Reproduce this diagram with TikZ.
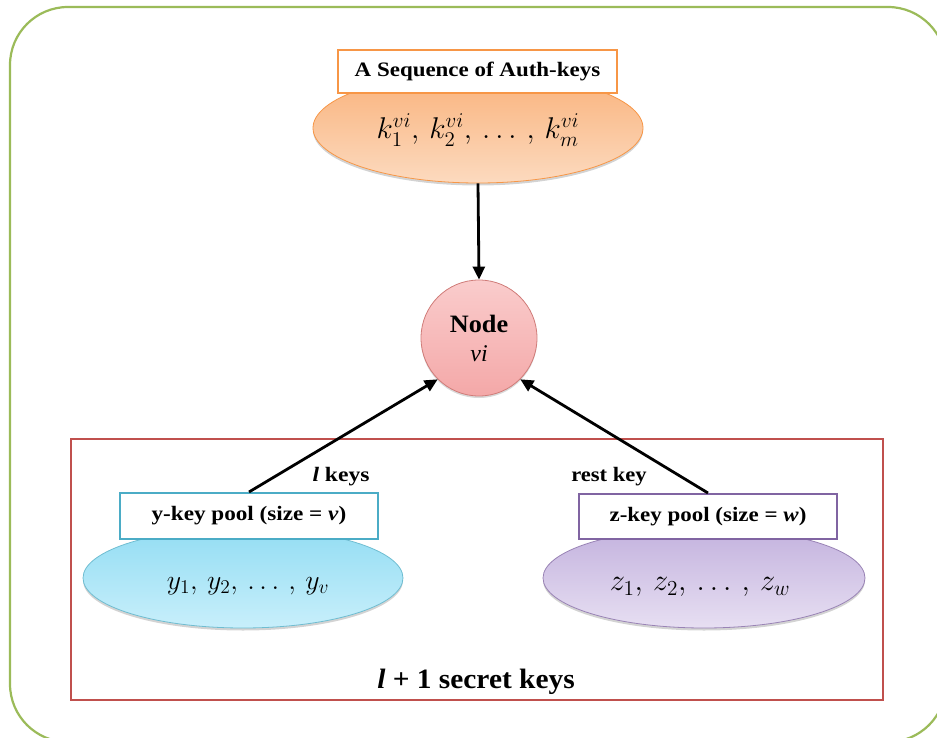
\documentclass[tikz,border=0pt]{standalone}
\usepackage{fix-cm}
\usepackage{graphicx}
\usepackage{fontspec}
\setmainfont{Liberation Serif}
\usetikzlibrary{shapes.geometric,arrows.meta,shadows}
\definecolor{framegreen}{HTML}{9BBB59}
\definecolor{boxred}{HTML}{C0504D}
\definecolor{boxorange}{HTML}{F79646}
\definecolor{boxcyan}{HTML}{4BACC6}
\definecolor{boxpurple}{HTML}{8064A2}
\definecolor{orangetop}{HTML}{F9B27B}
\definecolor{orangebot}{HTML}{FCDABF}
\definecolor{cyantop}{HTML}{93DDF3}
\definecolor{cyanbot}{HTML}{C8EFFB}
\definecolor{purpletop}{HTML}{C3B2DE}
\definecolor{purplebot}{HTML}{E7DFF2}
\definecolor{pinktop}{HTML}{FACCCC}
\definecolor{pinkbot}{HTML}{F4A8A8}
\tikzset{
  poolell/.style={ellipse, inner sep=0pt, line width=0.8pt, drop shadow={opacity=0.35, shadow xshift=0pt, shadow yshift=-2.5pt}},
  poolbox/.style={draw, fill=white, line width=2pt, inner sep=0pt, font=\fontsize{20.5}{24}\selectfont\bfseries},
  lbl/.style={inner sep=0pt, font=\fontsize{20.5}{24}\selectfont\bfseries},
  arr/.style={line width=2.8pt, -{Triangle[length=13pt,width=12pt]}},
  mathtxt/.style={inner sep=0pt, font=\fontsize{24}{28}\selectfont}
}
\begin{document}
\begin{tikzpicture}[x=1pt,y=-1pt]
\useasboundingbox (0,0) rectangle (937,738);
\begin{scope}
  \clip (0,0) rectangle (937,738);
  \draw[framegreen, line width=2.2pt, rounded corners=58pt] (10,7) rectangle (946,742);
\end{scope}
\draw[boxred, line width=2pt] (71,439) rectangle (883,700);

% top
\node[poolell, draw=boxorange, top color=orangetop, bottom color=orangebot, minimum width=330pt, minimum height=110pt] (oell) at (478,128) {};
\node[poolbox, draw=boxorange, minimum width=279pt, minimum height=43pt] (obox) at (477.5,71.5) {\scalebox{1.12}[1]{A Sequence of Auth-keys}};
\node[mathtxt] (ktext) at (478,130) {\scalebox{1.25}{$k_1^{vi},\, k_2^{vi},\, \dots\, ,\, k_m^{vi}$}};

% circle
\node[circle, draw=boxred!75, line width=0.8pt, top color=pinktop, bottom color=pinkbot, minimum size=116pt, inner sep=0pt, drop shadow={opacity=0.3, shadow xshift=0pt, shadow yshift=-2pt}] (nv) at (479,338) {};
\node[inner sep=0pt, font=\fontsize{25}{28}\selectfont\bfseries] (nodelbl) at (479,324) {\scalebox{1.05}[1]{Node}};
\node[inner sep=0pt, font=\fontsize{24}{28}\selectfont\itshape] (vilbl) at (479,354) {vi};

% y pool
\node[poolell, draw=boxcyan!80, top color=cyantop, bottom color=cyanbot, minimum width=320pt, minimum height=100pt] (yell) at (243,578) {};
\node[poolbox, draw=boxcyan, minimum width=258pt, minimum height=46pt] (ybox) at (249,516) {\scalebox{1.13}[1]{y-key pool (size = \textit{v})}};
\node[mathtxt] (ytext) at (248,586) {\scalebox{1.16}{$y_1,\, y_2,\, \dots\, ,\, y_v$}};

% z pool
\node[poolell, draw=boxpurple!80, top color=purpletop, bottom color=purplebot, minimum width=322pt, minimum height=100pt] (zell) at (704,578) {};
\node[poolbox, draw=boxpurple, minimum width=258pt, minimum height=45pt] (zbox) at (708,516.5) {\scalebox{1.12}[1]{z-key pool (size = \textit{w})}};
\node[mathtxt] (ztext) at (700,587) {\scalebox{1.27}{$z_1,\, z_2,\, \dots\, ,\, z_w$}};

% arrows
\draw[arr] (oell.south) -- (nv.north);
\draw[arr] (ybox.north) -- (nv.225);
\draw[arr] (zbox.north) -- (nv.315);

% labels
\node[lbl] (lkeys) at (341,477) {\scalebox{1.15}[1]{\textit{l} keys}};
\node[lbl] (restkey) at (609,477) {\scalebox{1.1}[1]{rest key}};
\node[inner sep=0pt, font=\fontsize{28}{32}\selectfont\bfseries] (secret) at (476,682) {\scalebox{1.05}[1]{\textit{l} + 1 secret keys}};
\end{tikzpicture}
\end{document}
